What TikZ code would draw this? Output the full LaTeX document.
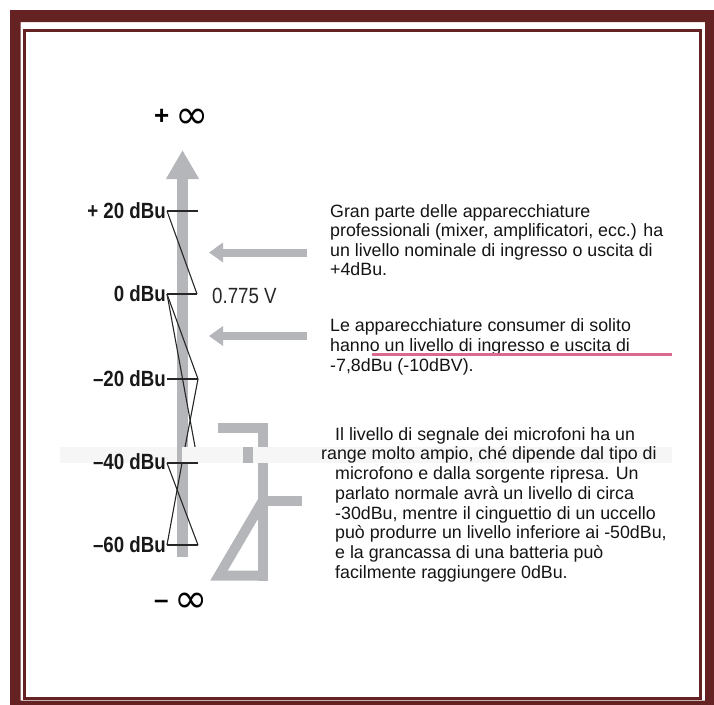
\documentclass[tikz,border=0pt]{standalone}
\usepackage{fontspec}
\setmainfont{Liberation Sans}
\newfontfamily\condfont[FakeStretch=0.85]{Liberation Sans}
\newfontfamily\symfont{DejaVu Sans}
\usetikzlibrary{arrows.meta}
\definecolor{framecol}{RGB}{100,34,34}
\definecolor{scalegray}{RGB}{180,182,186}
\definecolor{pinkline}{RGB}{218,105,145}
\definecolor{bandcol}{RGB}{246,246,246}
\newcommand{\infsign}{\raisebox{-4.5pt}{\symfont\fontsize{40}{40}\selectfont ∞}}
\begin{document}
\begin{tikzpicture}[x=1pt,y=-1pt,
  lvl/.style={draw=black!85, line width=1.1pt},
  lbl/.style={font=\condfont\bfseries\fontsize{22}{24}\selectfont, inner sep=0pt, anchor=east, text=black!90},
  volt/.style={font=\condfont\fontsize{22}{24}\selectfont, inner sep=0pt, anchor=west, text=black!85},
  body/.style={font=\fontsize{17.8}{19.8}\selectfont, inner sep=0pt, anchor=base west, text=black!92},
  gbar/.style={draw=scalegray, line width=10pt},
  harrow/.style={draw=scalegray, line width=8pt, -{Triangle[length=14pt,width=19pt]}},
]
\useasboundingbox (0,0) rectangle (714,704);

% double frame
\fill[framecol, even odd rule] (10,10) rectangle (720,712) (20.5,22) rectangle (705,700.5);
\draw[framecol, line width=3pt] (24.5,30) rectangle (700.5,698);

% vertical level scale
\coordinate (vbot) at (182.5,557);
\coordinate (vtop) at (182.5,150);
\draw[scalegray, line width=11pt, -{Triangle[length=29pt,width=31pt]}] (vbot) -- (vtop);

% infinity marks
\node[inner sep=0pt, anchor=base west] (pinf) at (154,124) {{\bfseries\fontsize{26}{26}\selectfont +}\hspace{6pt}\infsign};
\node[inner sep=0pt, anchor=base west] (minf) at (154,608) {{\bfseries\fontsize{26}{26}\selectfont –}\hspace{6pt}\infsign};

% tick points
\coordinate (p20a) at (167,211);  \coordinate (p20b) at (198,211);
\coordinate (p0a)  at (167,294);  \coordinate (p0b)  at (197,294);
\coordinate (m20a) at (167,379);  \coordinate (m20b) at (198,379);
\coordinate (m40a) at (167,463);  \coordinate (m40b) at (198,463);
\coordinate (m40c) at (182,463);
\coordinate (m60a) at (167,545);  \coordinate (m60b) at (198,545);

% level labels
\node[lbl] (l20) at (166,211) {+ 20 dBu};
\node[lbl] (l0)  at (166,294) {0 dBu};
\node[lbl] (lm20) at (166,379) {–20 dBu};
\node[lbl] (lm60) at (166,545) {–60 dBu};
\node[volt] (v0) at (212,296) {0.775 V};

% range brackets
\draw[lvl] (p20a) -- (p20b);
\draw[lvl] (p20a) -- (p0b);
\draw[lvl] (p0a) -- (p0b);
\draw[lvl] (p0a) -- (m20b);
\draw[lvl] (m20a) -- (m20b);
\draw[lvl] (p0a) -- (m40b);
\draw[lvl] (m20b) -- (m40c);
\draw[lvl] (m40a) -- (m60b);
\draw[lvl] (m40c) -- (m60a);
\draw[lvl] (m60a) -- (m60b);

% microphone on stand
\draw[gbar] (218,428) -- (263.3,428) -- (263.3,581);
\draw[gbar] (263.3,500.5) -- (302,500.5);
\draw[gbar, line join=miter] (263.3,500) -- (219,575.5) -- (263.3,575.5);

% pointers to the scale
\coordinate (a1s) at (307,252.5); \coordinate (a1e) at (209,252.5);
\coordinate (a2s) at (307,336);   \coordinate (a2e) at (209,336);
\draw[harrow] (a1s) -- (a1e);
\draw[harrow] (a2s) -- (a2e);

% light strip across the -40 dBu level
\fill[bandcol] (60,447) rectangle (672,463);
\fill[scalegray] (177,447) rectangle (182,463);
\fill[scalegray] (243,447) rectangle (253,463);
\draw[lvl] (m40a) -- (m40b);
\node[lbl] (lm40) at (166,462) {–40 dBu};

% explanations
\foreach \t [count=\i from 0] in {
  {Gran parte delle apparecchiature},
  {professionali (mixer, amplificatori, ecc.) ha},
  {un livello nominale di ingresso o uscita di},
  {+4dBu.}}
  \node[body] (pro\i) at (330,{217+19.6*\i}) {\t};

\foreach \t [count=\i from 0] in {
  {Le apparecchiature consumer di solito},
  {hanno un livello di ingresso e uscita di},
  {-7,8dBu (-10dBV).}}
  \node[body] (con\i) at (330,{331.7+19.8*\i}) {\t};

\foreach \t [count=\i from 0] in {
  {Il livello di segnale dei microfoni ha un},
  {\hspace*{-14pt}range molto ampio, ché dipende dal tipo di},
  {microfono e dalla sorgente ripresa. Un},
  {parlato normale avrà un livello di circa},
  {-30dBu, mentre il cinguettio di un uccello},
  {può produrre un livello inferiore ai -50dBu,},
  {e la grancassa di una batteria può},
  {facilmente raggiungere 0dBu.}}
  \node[body] (mic\i) at (335,{440+19.75*\i}) {\t};

\coordinate (u1) at (372,354.5); \coordinate (u2) at (672,354.5);
\draw[pinkline, line width=3.5pt] (u1) -- (u2);
\end{tikzpicture}
\end{document}
